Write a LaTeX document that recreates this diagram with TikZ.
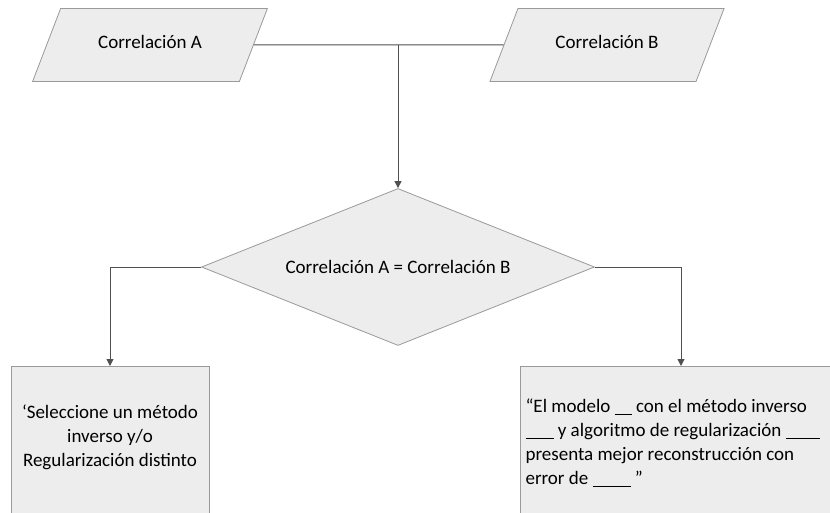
\documentclass[tikz,border=0pt]{standalone}
\usepackage{fontspec}
\setmainfont{Carlito}
\usetikzlibrary{shapes.geometric, arrows.meta}

\definecolor{boxfill}{HTML}{EDEDED}
\definecolor{boxline}{HTML}{9A9A9A}
\definecolor{wire}{HTML}{505050}
\newcommand{\hueco}[1]{\rule[-2pt]{#1}{0.9pt}}

\begin{document}
\begin{tikzpicture}[x=1pt, y=-1pt, >={Triangle[width=7pt,length=7pt]},
    every node/.style={font=\fontsize{19}{24}\selectfont},
    datos/.style={trapezium, trapezium left angle=69, trapezium right angle=111,
        text height=11pt, text depth=3pt,
        inner xsep=37.5pt, inner ysep=29.5pt,
        fill=boxfill, draw=boxline, line width=0.8pt},
    decision/.style={diamond, aspect=2.5, minimum width=393, minimum height=157,
        inner sep=0pt, fill=boxfill, draw=boxline, line width=0.8pt},
    caja/.style={rectangle, fill=boxfill, draw=boxline, line width=0.8pt},
    conector/.style={draw=wire, line width=1pt}]
    \useasboundingbox (0,0) rectangle (830,513);
    \clip (0,0) rectangle (830,513);

    \node[datos] (A) at (150,45) {Correlación A};
    \node[datos] (B) at (607,45) {Correlación B};
    \coordinate (J) at (398,45);

    \node[decision] (D) at (398,267) {Correlación A = Correlación B};

    \node[caja, minimum width=198, minimum height=170, anchor=north] (L) at (110,366) {};
    \node[caja, minimum width=322, minimum height=170, anchor=north] (R) at (681,366) {};

    \node[align=center] (Ltxt) at (110,437)
        {‘Seleccione un método\\inverso y/o\\Regularización distinto};
    \node[align=left, anchor=west] (Rtxt) at (522,443)
        {“El modelo \hueco{17pt} con el método inverso\\
         \hueco{28pt} y algoritmo de regularización \hueco{34pt}\\
         presenta mejor reconstrucción con\\
         error de \hueco{38pt} ”};

    \draw[conector] (A.east) -- (J) -- (B.west);
    \draw[conector, ->] (J) -- (D.north);
    \draw[conector, ->] (D.west) -| (L.north);
    \draw[conector, ->] (D.east) -| (R.north);
\end{tikzpicture}
\end{document}
